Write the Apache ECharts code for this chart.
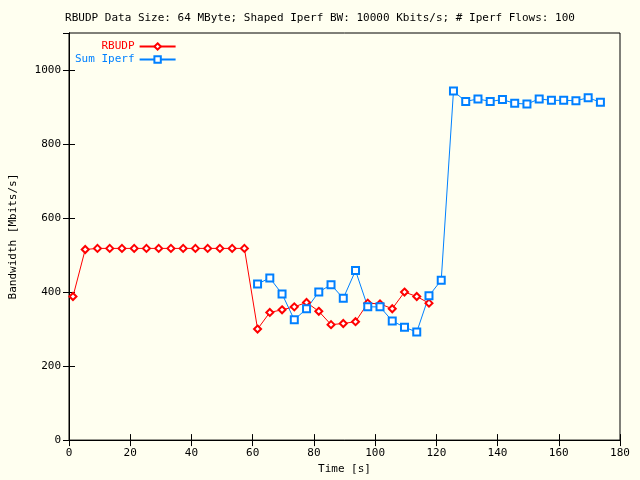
<!DOCTYPE html><html><head><meta charset="utf-8"><script src="https://cdn.jsdelivr.net/npm/echarts@6/dist/echarts.min.js"></script></head><body style="margin:0;background:#fffff0"><div id="c" style="width:640px;height:480px"></div><script>
const rbudpT=[1.3,5.3,9.3,13.3,17.3,21.3,25.3,29.3,33.3,37.3,41.3,45.3,49.3,53.3,57.3,61.6,65.6,69.6,73.6,77.6,81.6,85.6,89.6,93.6,97.6,101.6,105.6,109.6,113.6,117.6];
const rbudpV=[388,515,518,518,518,518,518,518,518,518,518,518,518,518,518,300,345,352,360,372,348,312,315,320,370,368,355,400,388,370];
const iperfT=[61.6,65.6,69.6,73.6,77.6,81.6,85.6,89.6,93.6,97.6,101.6,105.6,109.6,113.6,117.6,121.6,125.6,129.6,133.6,137.6,141.6,145.6,149.6,153.6,157.6,161.6,165.6,169.6,173.6];
const iperfV=[422,438,395,325,355,400,420,383,458,360,360,322,305,292,390,432,943,915,922,915,920,910,908,922,918,918,917,925,913];
const font='DejaVu Sans Mono';
const pair=(t,v)=>t.map((x,i)=>[x,v[i]]);
const ax={axisLine:{show:true,lineStyle:{color:'#000'}},axisTick:{inside:true,length:6,lineStyle:{color:'#000'}},splitLine:{show:false}};
echarts.init(document.getElementById('c')).setOption({
backgroundColor:'#fffff0',animation:false,
title:{text:'RBUDP Data Size: 64 MByte; Shaped Iperf BW: 10000 Kbits/s; # Iperf Flows: 100',left:'center',top:8,textStyle:{fontFamily:font,fontSize:11,fontWeight:'normal',color:'#000'}},
legend:{orient:'vertical',left:70,top:36,itemGap:2,itemWidth:36,itemHeight:8,textStyle:{fontFamily:font,fontSize:11},align:'right',
data:[{name:'RBUDP',textStyle:{color:'#ff0000'}},{name:'Sum Iperf',textStyle:{color:'#0080ff'}}]},
grid:{left:67,right:20,top:33,bottom:34,show:true,borderColor:'#000',borderWidth:1,backgroundColor:'transparent'},
xAxis:[{type:'value',min:0,max:180,interval:20,name:'Time [s]',nameLocation:'middle',nameGap:20,nameTextStyle:{fontFamily:font,fontSize:11,color:'#000'},
axisLabel:{fontFamily:font,fontSize:11,color:'#000'},...ax},
{type:'value',position:'top',min:0,max:180,interval:20,axisLabel:{show:false},...ax}],
yAxis:[{type:'value',min:0,max:1100,interval:200,name:'Bandwidth [Mbits/s]',nameLocation:'middle',nameGap:50,nameTextStyle:{fontFamily:font,fontSize:11,color:'#000'},
axisLabel:{fontFamily:font,fontSize:11,color:'#000',showMaxLabel:false,formatter:v=>String(v)},...ax},
{type:'value',position:'right',min:0,max:1100,interval:200,axisLabel:{show:false},...ax}],
series:[
{name:'RBUDP',type:'line',data:pair(rbudpT,rbudpV),color:'#ff0000',symbol:'emptyDiamond',symbolSize:7,lineStyle:{width:1},itemStyle:{borderWidth:1}},
{name:'Sum Iperf',type:'line',data:pair(iperfT,iperfV),color:'#0080ff',symbol:'emptyRect',symbolSize:7,lineStyle:{width:1},itemStyle:{borderWidth:1.5}}
]});
</script></body></html>
